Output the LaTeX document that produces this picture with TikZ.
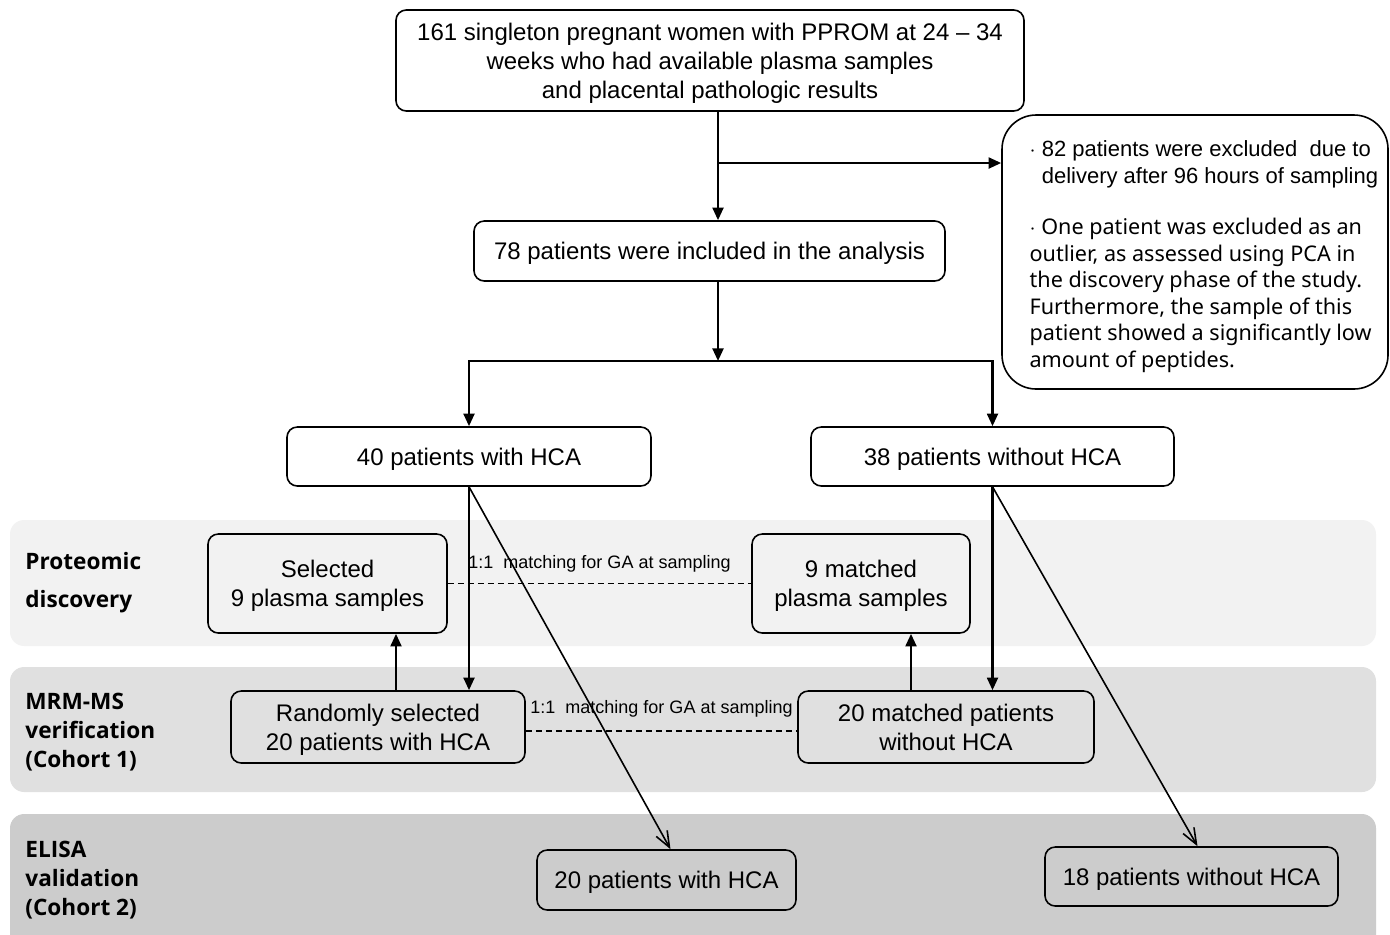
\documentclass[tikz,border=0pt]{standalone}
\usepackage{fontspec}
\setmainfont{Liberation Sans}
\newfontfamily\notefont{Noto Sans}
\newfontfamily\stagefont{Open Sans}
\usetikzlibrary{arrows.meta,calc}
\definecolor{FCInk}{HTML}{000000}
\definecolor{FCBandA}{HTML}{F2F2F2}
\definecolor{FCBandB}{HTML}{E0E0E0}
\definecolor{FCBandC}{HTML}{CCCCCC}
\tikzset{
  flow/.style={-{Triangle[length=2.2mm,width=1.9mm]},FCInk,line width=1.2pt},
  thinflow/.style={-{Straight Barb[length=2.8mm,width=2.2mm]},FCInk,line width=0.8pt},
  box/.style={draw=FCInk,line width=0.8pt,fill=white,rounded corners=1.8mm,
              align=center,inner sep=0pt,text depth=0pt,font=\fontsize{12}{14.5}\selectfont},
  boxband/.style={box,fill=none},
  notebox/.style={box,rounded corners=6mm},
  notetext/.style={anchor=west,inner sep=0pt,align=left,
                   font=\notefont\fontsize{10.8}{13.25}\selectfont},
  match/.style={FCInk,line width=0.6pt,dash pattern=on 3pt off 2pt},
  matchlabel/.style={inner sep=0pt,font=\fontsize{9}{11}\selectfont},
  stagelabel/.style={anchor=west,inner sep=0pt,align=left,
                     font=\stagefont\bfseries\fontsize{11.3}{14.5}\selectfont},
  band/.style={rounded corners=2.5mm},
}

\begin{document}
\begin{tikzpicture}[x=0.5pt,y=-0.5pt]
  \clip (0,0) rectangle (1390,934);
  \fill[white] (0,0) rectangle (1390,934);

  % stage bands
  \fill[band,FCBandA] (10,520) rectangle (1376,646);
  \fill[band,FCBandB] (10,667) rectangle (1376,792);
  \fill[band,FCBandC] (10,814) rectangle (1376,950);
  \node[stagelabel,font=\stagefont\bfseries\fontsize{11.3}{19}\selectfont] (stA) at (25,583) {Proteomic\\discovery};
  \node[stagelabel] (stB) at (25,732) {MRM-MS\\verification\\(Cohort 1)};
  \node[stagelabel] (stC) at (25,880) {ELISA\\validation\\(Cohort 2)};

  % boxes
  \node[box,minimum width=314pt,minimum height=50.5pt] (top) at (710,60.5)
    {161 singleton pregnant women with PPROM at 24 -- 34\\weeks who had available plasma samples\\and placental pathologic results};
  \node[notebox,minimum width=193pt,minimum height=137pt] (excl) at (1195,252) {};
  \node[notetext] (exclText) at ($(excl.west)+(28,4.5)$)
    {{\rmfamily\fontsize{11}{13.5}\selectfont $\cdot$ 82 patients were excluded\ \ due to}\\
     {\rmfamily\fontsize{11}{13.5}\selectfont \phantom{$\cdot$ }delivery after 96 hours of sampling}\\[12.5pt]
     $\cdot$ One patient was excluded as an\\
     outlier, as assessed using PCA in\\
     the discovery phase of the study.\\
     Furthermore, the sample of this\\
     patient showed a significantly low\\
     amount of peptides.};
  \node[box,minimum width=235.5pt,minimum height=30pt] (incl) at (709.5,251)
    {78 patients were included in the analysis};
  \node[box,minimum width=182pt,minimum height=29.5pt] (hca) at (469,456.5) {40 patients with HCA};
  \node[box,minimum width=181.5pt,minimum height=29.5pt] (nohca) at (992.5,456.5) {38 patients without HCA};
  \node[boxband,minimum width=119.5pt,minimum height=49.5pt] (selA) at (327.5,583.5) {Selected\\9 plasma samples};
  \node[boxband,minimum width=109pt,minimum height=49.5pt] (selB) at (861,583.5) {9 matched\\plasma samples};
  \node[boxband,minimum width=147pt,minimum height=36pt] (mrmA) at (378,727) {Randomly selected\\20 patients with HCA};
  \node[boxband,minimum width=148pt,minimum height=36pt] (mrmB) at (946,727) {20 matched patients\\without HCA};
  \node[boxband,minimum width=129.5pt,minimum height=30pt] (elA) at (666.5,880) {20 patients with HCA};
  \node[boxband,minimum width=146.5pt,minimum height=29.5pt] (elB) at (1191.5,876.5) {18 patients without HCA};

  % connectors
  \coordinate (trunk) at (718,163);
  \coordinate (split) at (718,361);
  \draw[flow] (top.south -| trunk) -- (incl.north -| trunk);
  \draw[flow] (trunk) -- (trunk -| excl.west);
  \draw[flow] (incl.south -| split) -- (split);
  \draw[flow] (split) -| (hca.north);
  \draw[flow] (split) -| (nohca.north);
  \draw[flow] (hca.south) -- (hca.south |- mrmA.north);
  \draw[flow] (nohca.south) -- (nohca.south |- mrmB.north);
  \draw[flow] ([xshift=9pt]mrmA.north) -- ([xshift=9pt]mrmA.north |- selA.south);
  \draw[flow] ([xshift=-17.5pt]mrmB.north) -- ([xshift=-17.5pt]mrmB.north |- selB.south);
  \draw[thinflow] (hca.south) -- ([xshift=2pt]elA.north);
  \draw[thinflow] (nohca.south) -- ([xshift=3pt]elB.north);

  % matching
  \draw[match] (selA.east) -- node[matchlabel,midway,above=5.5pt] {1:1\ \ matching for GA at sampling} (selB.west);
  \draw[match] ([yshift=-2pt]mrmA.east) -- node[matchlabel,midway,above=6.5pt] {1:1\ \ matching for GA at sampling} ([yshift=-2pt]mrmB.west);
\end{tikzpicture}
\end{document}
